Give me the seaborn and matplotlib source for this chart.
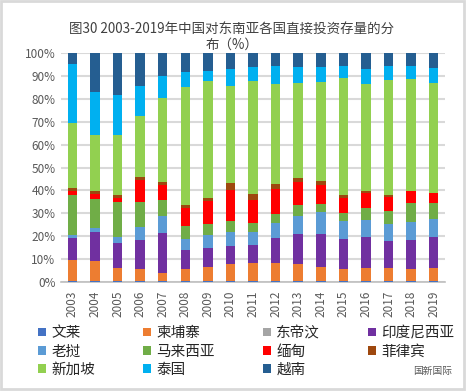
import numpy as np
import matplotlib
matplotlib.use("Agg")
import matplotlib.pyplot as plt
import seaborn as sns
from matplotlib.patches import Patch, Rectangle

# 年份
years = ['2003', '2004', '2005', '2006', '2007', '2008', '2009', '2010', '2011',
         '2012', '2013', '2014', '2015', '2016', '2017', '2018', '2019']

countries = ['文莱', '柬埔寨', '东帝汶', '印度尼西亚', '老挝', '马来西亚',
             '缅甸', '菲律宾', '新加坡', '泰国', '越南']
colors = ['#4472C4', '#ED7D31', '#A5A5A5', '#7030A0', '#5B9BD5', '#70AD47',
          '#FF0000', '#9E480E', '#92D050', '#00B0F0', '#255E91']

# 各国占比 (%) - 从图中读取
brunei    = [0.2, 0.2, 0.2, 0.2, 0.2, 0.2, 0.2, 0.2, 0.2, 0.2, 0.2, 0.2, 0.2, 0.2, 0.2, 0.2, 0.2]
cambodia  = [9.4, 9.0, 5.9, 5.5, 3.7, 5.5, 6.4, 7.7, 8.1, 8.1, 7.7, 6.4, 5.5, 5.9, 5.9, 5.5, 5.9]
timor     = [0.0, 0.0, 0.0, 0.0, 0.0, 0.0, 0.0, 0.0, 0.0, 0.0, 0.0, 0.0, 0.0, 0.0, 0.0, 0.0, 0.0]
indonesia = [9.6, 12.6, 10.9, 12.6, 17.5, 8.3, 8.2, 7.8, 7.9, 10.9, 13.1, 14.4, 13.1, 13.6, 11.8, 12.6, 13.6]
laos      = [1.3, 1.8, 2.7, 5.7, 7.4, 4.8, 5.7, 6.1, 5.8, 6.6, 8.0, 9.6, 7.8, 7.5, 7.6, 8.0, 7.8]
malaysia  = [17.5, 12.6, 15.2, 10.9, 7.0, 5.7, 4.8, 4.8, 3.8, 4.0, 4.8, 3.6, 3.5, 5.1, 5.5, 8.2, 7.0]
myanmar   = [1.7, 2.4, 1.9, 9.8, 6.7, 8.0, 10.1, 13.7, 10.0, 10.8, 10.0, 8.3, 6.7, 6.7, 6.1, 5.2, 4.4]
phil      = [1.3, 1.1, 1.2, 1.3, 1.2, 1.1, 1.3, 2.9, 2.6, 2.2, 1.8, 1.8, 1.2, 0.9, 0.9, 0.1, 0.1]
singapore = [28.4, 24.5, 26.2, 26.5, 36.6, 51.6, 51.1, 42.4, 49.4, 43.7, 41.3, 43.0, 51.1, 46.6, 50.2, 48.8, 47.9]
thailand  = [25.8, 18.8, 17.5, 13.1, 9.7, 6.5, 4.3, 7.4, 6.1, 7.8, 7.0, 6.6, 5.2, 6.5, 6.1, 5.7, 6.5]
vietnam   = [4.8, 17.0, 18.3, 14.4, 10.0, 8.3, 7.9, 7.0, 6.1, 5.7, 6.1, 6.1, 5.7, 7.0, 5.7, 5.7, 6.6]

series = [brunei, cambodia, timor, indonesia, laos, malaysia,
          myanmar, phil, singapore, thailand, vietnam]

sns.set_style("white")
plt.rcParams['font.family'] = ['Noto Sans CJK SC', 'DejaVu Sans']

fig = plt.figure(figsize=(4.66, 3.91), dpi=100)
ax = fig.add_axes([0.131, 0.279, 0.824, 0.585])

bottom = np.zeros(len(years))
for name, vals, c in zip(countries, series, colors):
    vals = np.array(vals, dtype=float)
    sns.barplot(x=years, y=vals, bottom=bottom, color=c, width=0.42,
                saturation=1, errorbar=None, ax=ax, zorder=3, linewidth=0)
    bottom = bottom + vals

ax.set_ylim(0, 100)
ax.set_xlim(-0.5, len(years) - 0.5)
ax.set_yticks(np.arange(0, 101, 10))
ax.set_yticklabels([f'{v}%' for v in range(0, 101, 10)])
ax.set_xlabel('')
ax.set_ylabel('')
ax.grid(axis='y', color='#D9D9D9', linewidth=1.5, zorder=0)
ax.set_axisbelow(True)
for s in ['top', 'right', 'left']:
    ax.spines[s].set_visible(False)
ax.spines['bottom'].set_color('#BFBFBF')
ax.spines['bottom'].set_linewidth(1.2)
ax.tick_params(axis='y', length=0, labelsize=8.5, labelcolor='#595959', pad=4)
ax.tick_params(axis='x', which='major', length=0, labelsize=8.5,
               labelcolor='#595959', rotation=90, pad=6)
ax.set_xticks(np.arange(-0.5, len(years), 1), minor=True)
ax.tick_params(axis='x', which='minor', length=4, color='#BFBFBF', width=1)

fig.text(0.497, 0.906, '图30 2003-2019年中国对东南亚各国直接投资存量的分\n布（%）',
         ha='center', va='center', fontsize=9.7, color='#404040', linespacing=1.25)

# legend: row-wise order
handles = [Patch(facecolor=c, edgecolor='none', label=n) for n, c in zip(countries, colors)]
order = [0, 4, 8, 1, 5, 9, 2, 6, 10, 3, 7]
fig.legend([handles[i] for i in order], [countries[i] for i in order],
           loc='upper left', bbox_to_anchor=(0.082, 0.166), ncol=4, frameon=False,
           fontsize=10.5, handlelength=0.55, handleheight=0.55, handletextpad=0.35,
           columnspacing=3.3, labelspacing=0.3, labelcolor='#262626',
           borderaxespad=0, borderpad=0)

fig.text(0.97, 0.052, '国新国际', ha='right', va='center', fontsize=7, color='#595959')

fig.patches.append(Rectangle((0.003, 0.004), 0.993, 0.993, transform=fig.transFigure,
                             fill=False, edgecolor='#D9D9D9', linewidth=2))

fig.savefig('out.png', dpi=100)
